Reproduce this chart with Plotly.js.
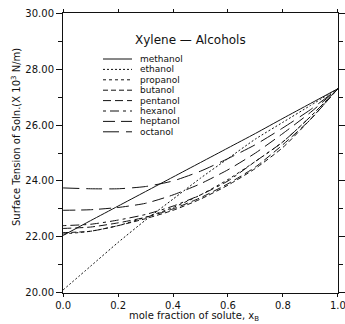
<!DOCTYPE html>
<html>
<head>
<meta charset="utf-8">
<script src="https://cdn.plot.ly/plotly-3.0.1.min.js"></script>
<style>html,body{margin:0;padding:0;background:#fff;}#chart{width:345px;height:324px;}</style>
</head>
<body>
<div id="chart"></div>
<script>
var xValues = [0, 0.1, 0.2, 0.3, 0.4, 0.5, 0.6, 0.7, 0.8, 0.9, 1.0];
var methanol = [22.05, 22.58, 23.1, 23.62, 24.14, 24.66, 25.18, 25.7, 26.24, 26.77, 27.3];
var ethanol  = [20.1, 20.95, 21.8, 22.6, 23.35, 24.1, 24.8, 25.5, 26.1, 26.7, 27.3];
var propanol = [22.1, 22.2, 22.4, 22.7, 23.05, 23.5, 24.05, 24.7, 25.4, 26.3, 27.3];
var butanol  = [22.15, 22.2, 22.4, 22.65, 22.95, 23.35, 23.85, 24.45, 25.2, 26.2, 27.3];
var pentanol = [22.3, 22.35, 22.5, 22.7, 23.0, 23.4, 23.9, 24.5, 25.3, 26.2, 27.3];
var hexanol  = [22.4, 22.45, 22.6, 22.8, 23.1, 23.5, 24.0, 24.7, 25.4, 26.3, 27.3];
var heptanol = [22.95, 22.97, 23.05, 23.2, 23.5, 23.9, 24.4, 25.0, 25.7, 26.45, 27.3];
var octanol  = [23.75, 23.72, 23.72, 23.8, 24.0, 24.35, 24.8, 25.3, 25.9, 26.55, 27.3];

var seriesNames = ["methanol", "ethanol", "propanol", "butanol", "pentanol", "hexanol", "heptanol", "octanol"];
var seriesData = [methanol, ethanol, propanol, butanol, pentanol, hexanol, heptanol, octanol];
var dashes = ["solid", "2px,2px", "3px,3px", "5px,3px", "8px,4px", "3px,4px,9px,4px", "12px,6px", "16px,7px"];

var yTickVals = [20, 22, 24, 26, 28, 30];
var yTickText = ["20.00", "22.00", "24.00", "26.00", "28.00", "30.00"];
var xTickVals = [0, 0.2, 0.4, 0.6, 0.8, 1.0];
var xTickText = ["0.0", "0.2", "0.4", "0.6", "0.8", "1.0"];

var FONT = "DejaVu Sans, sans-serif";
var traces = seriesNames.map(function (n, i) {
  return {
    x: xValues, y: seriesData[i], name: n, type: "scatter", mode: "lines",
    line: {color: "#111", width: 1, dash: dashes[i], shape: "spline", smoothing: 0.6},
    showlegend: false, hoverinfo: "skip", cliponaxis: false
  };
});

var L = 63, T = 13, W = 275, H = 280;
function px(x) { return (x - L) / W; }
function py(y) { return (T + H - y) / H; }
var shapes = [], annotations = [];
annotations.push({text: "Xylene \u2014 Alcohols", xref: "paper", yref: "paper", x: px(190), y: py(40),
  showarrow: false, xanchor: "center", yanchor: "middle", font: {family: FONT, size: 12, color: "#111"}});
seriesNames.forEach(function (n, i) {
  var yy = 59 + i * 10.4;
  shapes.push({type: "line", xref: "paper", yref: "paper", x0: px(103), x1: px(132), y0: py(yy), y1: py(yy),
    line: {color: "#111", width: 1, dash: dashes[i]}});
  annotations.push({text: n, xref: "paper", yref: "paper", x: px(138), y: py(yy), showarrow: false,
    xanchor: "left", yanchor: "middle", font: {family: FONT, size: 9, color: "#111"}});
});
annotations.push({text: "Surface Tension of Soln.(X 10<sup>3</sup> N/m)", xref: "paper", yref: "paper",
  x: px(16), y: py(137), textangle: -90, showarrow: false, xanchor: "center", yanchor: "middle",
  font: {family: FONT, size: 10, color: "#111"}});
annotations.push({text: "mole fraction of solute, x<sub>B</sub>", xref: "paper", yref: "paper",
  x: px(194), y: py(316), showarrow: false, xanchor: "center", yanchor: "middle",
  font: {family: FONT, size: 10, color: "#111"}});

var layout = {
  width: 345, height: 324,
  margin: {l: 63, r: 7, t: 13, b: 31},
  paper_bgcolor: "#fff", plot_bgcolor: "#fff",
  font: {family: FONT, size: 10, color: "#111"},
  xaxis: {
    range: [-0.0005, 1.0005], tickvals: xTickVals, ticktext: xTickText,
    ticklabeloverflow: "allow",
    showgrid: false, zeroline: false, showline: true, linecolor: "#111", linewidth: 1,
    mirror: "ticks", ticks: "outside", ticklen: 3, tickcolor: "#111",
    tickfont: {family: FONT, size: 10, color: "#111"}
  },
  yaxis: {
    range: [19.99, 30.01], tickvals: yTickVals, ticktext: yTickText,
    showgrid: false, zeroline: false, showline: true, linecolor: "#111", linewidth: 1,
    mirror: "ticks", ticks: "outside", ticklen: 6, tickcolor: "#111",
    minor: {dtick: 1, tick0: 20, ticks: "outside", ticklen: 4, tickcolor: "#111", showgrid: false},
    tickfont: {family: FONT, size: 10, color: "#111"}
  },
  shapes: shapes, annotations: annotations
};

Plotly.newPlot("chart", traces, layout, {staticPlot: true, displayModeBar: false});
</script>
</body>
</html>
